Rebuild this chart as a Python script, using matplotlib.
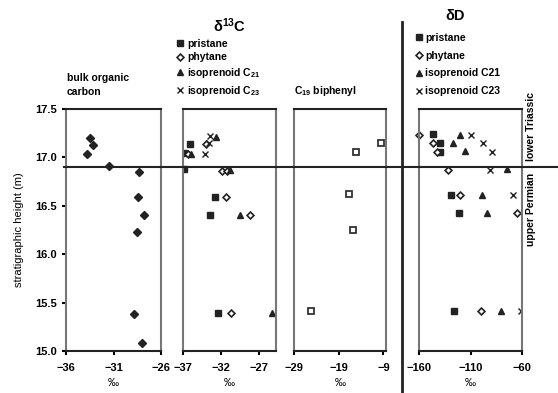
import matplotlib
matplotlib.use('Agg')
import matplotlib.pyplot as plt
from matplotlib.lines import Line2D
import matplotlib.transforms as mtransforms

plt.rcParams['font.family'] = ['Liberation Sans', 'DejaVu Sans']
plt.rcParams['font.weight'] = 'bold'
plt.rcParams['mathtext.fontset'] = 'custom'
plt.rcParams['mathtext.rm'] = 'Liberation Sans:bold'
plt.rcParams['mathtext.it'] = 'Liberation Sans:bold'
plt.rcParams['mathtext.bf'] = 'Liberation Sans:bold'
plt.rcParams['mathtext.default'] = 'rm'

# bulk organic carbon (d13C, permil) vs height (m)
bulk_x = [-33.5, -33.2, -33.8, -31.5, -28.3, -28.4, -27.8, -28.5, -28.8, -28.0]
bulk_y = [17.20, 17.13, 17.04, 16.91, 16.85, 16.59, 16.40, 16.23, 15.38, 15.08]

# d13C compounds
c_pri_x = [-36.1, -36.9, -36.9, -32.8, -33.4, -32.4]
c_pri_y = [17.14, 17.05, 16.88, 16.59, 16.40, 15.39]
c_phy_x = [-34.0, -36.3, -31.8, -31.2, -31.3, -28.2, -30.7]
c_phy_y = [17.14, 17.04, 16.86, 16.86, 16.59, 16.40, 15.39]
c_c21_x = [-32.6, -36.0, -30.8, -29.5, -25.3]
c_c21_y = [17.21, 17.04, 16.87, 16.40, 15.39]
c_c23_x = [-33.4, -33.5, -34.1]
c_c23_y = [17.22, 17.15, 17.04]

# C19 biphenyl
bip_x = [-9.5, -15.1, -16.6, -15.8, -25.2]
bip_y = [17.15, 17.06, 16.62, 16.25, 15.41]

# dD compounds
d_pri_x = [-146.4, -140.0, -140.0, -129.2, -121.0, -126.0]
d_pri_y = [17.24, 17.15, 17.06, 16.61, 16.43, 15.41]
d_phy_x = [-160.0, -146.4, -142.5, -131.4, -120.0, -64.5, -99.7]
d_phy_y = [17.23, 17.15, 17.06, 16.87, 16.61, 16.43, 15.41]
d_c21_x = [-119.8, -127.0, -115.2, -74.4, -98.6, -94.3, -80.5]
d_c21_y = [17.23, 17.15, 17.07, 16.88, 16.61, 16.43, 15.41]
d_c23_x = [-110.0, -97.8, -89.6, -90.6, -68.7, -61.0]
d_c23_y = [17.23, 17.15, 17.06, 16.87, 16.61, 15.41]

boundary = 16.9

fig = plt.figure(figsize=(5.58, 3.93), dpi=100)
bottom, height = 0.1069, 0.6158
ax1 = fig.add_axes([0.1183, bottom, 0.1703, height])
ax2 = fig.add_axes([0.3280, bottom, 0.1667, height])
ax3 = fig.add_axes([0.5269, bottom, 0.1649, height])
ax4 = fig.add_axes([0.7509, bottom, 0.1846, height])

for ax in (ax1, ax2, ax3, ax4):
    ax.set_ylim(15.0, 17.5)
    for side in ('left', 'right'):
        ax.spines[side].set_color('#777777')
        ax.spines[side].set_linewidth(1.5)
    for side in ('top', 'bottom'):
        ax.spines[side].set_color('#222222')
        ax.spines[side].set_linewidth(1.5)
    ax.tick_params(axis='x', direction='out', length=3, width=1.5, labelsize=8, pad=6)
    ax.set_xlabel('‰', fontsize=8, labelpad=3)
    ax.set_yticks([])

ax1.set_yticks([15.0, 15.5, 16.0, 16.5, 17.0, 17.5])
ax1.set_yticklabels(['15.0', '15.5', '16.0', '16.5', '17.0', '17.5'])
ax1.tick_params(axis='y', direction='out', length=3, width=1.5, labelsize=8)
ax1.set_ylabel('stratigraphic height (m)', fontsize=8, labelpad=8)

# bulk organic carbon
ax1.set_xlim(-36, -26)
ax1.set_xticks([-36, -31, -26])
ax1.errorbar(bulk_x, bulk_y, xerr=0.35, fmt='D', color='#222222', ms=4,
             elinewidth=0.8, capsize=0)
ax1.text(0.01, 1.05, 'bulk organic\ncarbon', transform=ax1.transAxes,
         fontsize=7.5, ha='left', va='bottom', linespacing=1.5)

# d13C
ax2.set_xlim(-37, -24.7)
ax2.set_xticks([-37, -32, -27])
ax2.plot(c_pri_x, c_pri_y, 's', color='#222222', ms=4.5, ls='none', label='pristane')
ax2.plot(c_phy_x, c_phy_y, 'D', mfc='white', mec='#222222', mew=1.2, ms=3.5, ls='none', label='phytane')
ax2.plot(c_c21_x, c_c21_y, '^', color='#222222', ms=5, ls='none', label='isoprenoid C$_{21}$', clip_on=False)
ax2.plot(c_c23_x, c_c23_y, 'x', color='#222222', ms=5, mew=1, ls='none', label='isoprenoid C$_{23}$')
ax2.legend(loc='upper left', bbox_to_anchor=(-0.07, 1.29), frameon=False, fontsize=7.5,
           handlelength=0.7, handletextpad=0.3, labelspacing=0.35, borderaxespad=0,
           borderpad=0)
ax2.text(0.5, 1.306, r'δ$^{13}$C', transform=ax2.transAxes, fontsize=10.5,
         ha='center', va='bottom')

# C19 biphenyl
ax3.set_xlim(-29, -8.4)
ax3.set_xticks([-29, -19, -9])
ax3.plot(bip_x, bip_y, 's', mfc='white', mec='#333333', mew=1.3, ms=4.5, ls='none')
ax3.text(0.0, 1.047, 'C$_{19}$ biphenyl', transform=ax3.transAxes, fontsize=7.5,
         ha='left', va='bottom')

# dD
ax4.set_xlim(-160, -60)
ax4.set_xticks([-160, -110, -60])
ax4.plot(d_pri_x, d_pri_y, 's', color='#222222', ms=4.5, ls='none', label='pristane')
ax4.plot(d_phy_x, d_phy_y, 'D', mfc='white', mec='#222222', mew=1.2, ms=3.5, ls='none',
         label='phytane', clip_on=False)
ax4.plot(d_c21_x, d_c21_y, '^', color='#222222', ms=5, ls='none', label='isoprenoid C21')
ax4.plot(d_c23_x, d_c23_y, 'x', color='#222222', ms=5, mew=1, ls='none', label='isoprenoid C23')
ax4.legend(loc='upper left', bbox_to_anchor=(-0.04, 1.315), frameon=False, fontsize=7.5,
           handlelength=0.7, handletextpad=0.3, labelspacing=0.75, borderaxespad=0,
           borderpad=0)
ax4.text(0.35, 1.356, 'δD', transform=ax4.transAxes, fontsize=10.5,
         ha='center', va='bottom')

# Permian-Triassic boundary and divider
trans = mtransforms.blended_transform_factory(fig.transFigure, ax1.transData)
fig.add_artist(Line2D([0.115, 1.0], [boundary, boundary], transform=trans,
                      color='#222222', lw=1.5))
fig.add_artist(Line2D([0.7204, 0.7204], [0.0, 0.944], transform=fig.transFigure,
                      color='#222222', lw=2))

fig.text(0.952, 0.677, 'lower Triassic', rotation=90, fontsize=7.5, ha='center', va='center')
fig.text(0.952, 0.466, 'upper Permian', rotation=90, fontsize=7.5, ha='center', va='center')

plt.savefig('out.png', dpi=100)
plt.close()
